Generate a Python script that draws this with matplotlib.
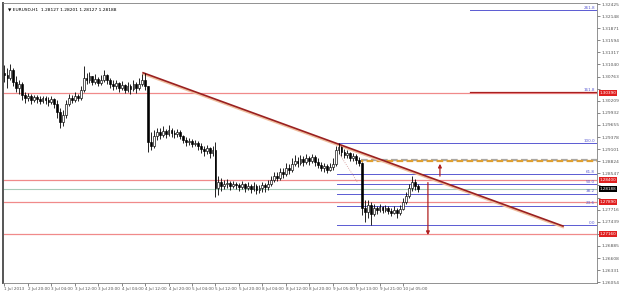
import numpy as np
import matplotlib.pyplot as plt
from matplotlib.transforms import blended_transform_factory

# EURUSD H1 bars (prices)
first_open = 1.3085
highs = [
    1.3103, 1.3096, 1.3105, 1.3096, 1.3078, 1.3069, 1.3064, 1.3041, 1.3039, 1.3036,
    1.3034, 1.3034, 1.3032, 1.3032, 1.3032, 1.3030, 1.3032, 1.3027, 1.3023, 1.3005,
    1.3000, 1.3023, 1.3036, 1.3034, 1.3041, 1.3036, 1.3055, 1.3101, 1.3085, 1.3087,
    1.3078, 1.3082, 1.3075, 1.3080, 1.3091, 1.3082, 1.3073, 1.3069, 1.3069, 1.3064,
    1.3066, 1.3059, 1.3064, 1.3059, 1.3069, 1.3064, 1.3073, 1.3082, 1.3085, 1.3055,
    1.2949, 1.2954, 1.2958, 1.2958, 1.2962, 1.2956, 1.2965, 1.2958, 1.2954, 1.2956,
    1.2954, 1.2942, 1.2938, 1.2936, 1.2933, 1.2931, 1.2929, 1.2924, 1.2917, 1.2919,
    1.2915, 1.2917, 1.2926, 1.2849, 1.2844, 1.2840, 1.2842, 1.2837, 1.2837, 1.2835,
    1.2833, 1.2837, 1.2833, 1.2835, 1.2830, 1.2835, 1.2830, 1.2828, 1.2835, 1.2833,
    1.2840, 1.2849, 1.2858, 1.2858, 1.2867, 1.2867, 1.2878, 1.2876, 1.2890, 1.2897,
    1.2892, 1.2897, 1.2894, 1.2899, 1.2894, 1.2899, 1.2897, 1.2890, 1.2881, 1.2878,
    1.2876, 1.2878, 1.2890, 1.2917, 1.2924, 1.2917, 1.2910, 1.2908, 1.2904, 1.2901,
    1.2899, 1.2892, 1.2881, 1.2794, 1.2794, 1.2789, 1.2785, 1.2780, 1.2785, 1.2780,
    1.2782, 1.2780, 1.2775, 1.2780, 1.2775, 1.2782, 1.2798, 1.2812, 1.2830, 1.2849,
    1.2842, 1.2830]
lows = [
    1.3064, 1.3050, 1.3069, 1.3055, 1.3041, 1.3036, 1.3023, 1.3016, 1.3021, 1.3014,
    1.3018, 1.3016, 1.3014, 1.3016, 1.3014, 1.3009, 1.3014, 1.3005, 1.2982, 1.2958,
    1.2962, 1.2982, 1.3009, 1.3016, 1.3018, 1.3021, 1.3023, 1.3041, 1.3059, 1.3062,
    1.3057, 1.3059, 1.3055, 1.3057, 1.3064, 1.3059, 1.3050, 1.3046, 1.3048, 1.3041,
    1.3046, 1.3039, 1.3041, 1.3036, 1.3043, 1.3039, 1.3046, 1.3055, 1.3046, 1.2904,
    1.2908, 1.2913, 1.2931, 1.2933, 1.2938, 1.2936, 1.2940, 1.2938, 1.2936, 1.2938,
    1.2933, 1.2924, 1.2917, 1.2919, 1.2915, 1.2917, 1.2908, 1.2901, 1.2894, 1.2899,
    1.2890, 1.2894, 1.2801, 1.2805, 1.2814, 1.2819, 1.2821, 1.2817, 1.2821, 1.2819,
    1.2814, 1.2819, 1.2812, 1.2817, 1.2810, 1.2814, 1.2807, 1.2810, 1.2812, 1.2812,
    1.2817, 1.2826, 1.2835, 1.2837, 1.2840, 1.2844, 1.2849, 1.2853, 1.2858, 1.2872,
    1.2869, 1.2874, 1.2872, 1.2876, 1.2874, 1.2878, 1.2872, 1.2867, 1.2860, 1.2858,
    1.2856, 1.2860, 1.2862, 1.2872, 1.2899, 1.2894, 1.2890, 1.2890, 1.2883, 1.2883,
    1.2876, 1.2872, 1.2759, 1.2743, 1.2752, 1.2736, 1.2757, 1.2762, 1.2766, 1.2764,
    1.2766, 1.2762, 1.2757, 1.2762, 1.2752, 1.2759, 1.2771, 1.2785, 1.2798, 1.2814,
    1.2817, 1.2812]
closes = [
    1.3080, 1.3073, 1.3091, 1.3064, 1.3050, 1.3059, 1.3034, 1.3027, 1.3032, 1.3023,
    1.3030, 1.3025, 1.3021, 1.3027, 1.3023, 1.3018, 1.3025, 1.3014, 1.2995, 1.2972,
    1.2988, 1.3014, 1.3027, 1.3023, 1.3032, 1.3027, 1.3046, 1.3073, 1.3069, 1.3078,
    1.3064, 1.3071, 1.3062, 1.3069, 1.3080, 1.3069, 1.3059, 1.3055, 1.3062, 1.3050,
    1.3057, 1.3046, 1.3055, 1.3048, 1.3059, 1.3050, 1.3059, 1.3069, 1.3055, 1.2926,
    1.2917, 1.2940, 1.2949, 1.2942, 1.2952, 1.2945, 1.2954, 1.2947, 1.2945, 1.2949,
    1.2940, 1.2931, 1.2926, 1.2929, 1.2922, 1.2924, 1.2917, 1.2910, 1.2906, 1.2913,
    1.2901, 1.2908, 1.2821, 1.2835, 1.2826, 1.2830, 1.2833, 1.2826, 1.2830, 1.2828,
    1.2824, 1.2830, 1.2821, 1.2826, 1.2819, 1.2826, 1.2817, 1.2821, 1.2828, 1.2824,
    1.2830, 1.2840, 1.2849, 1.2844, 1.2858, 1.2853, 1.2867, 1.2862, 1.2876, 1.2883,
    1.2878, 1.2888, 1.2881, 1.2890, 1.2883, 1.2892, 1.2881, 1.2874, 1.2867, 1.2872,
    1.2862, 1.2869, 1.2876, 1.2908, 1.2915, 1.2904, 1.2897, 1.2901, 1.2890, 1.2894,
    1.2885, 1.2878, 1.2775, 1.2766, 1.2782, 1.2762, 1.2775, 1.2771, 1.2778, 1.2771,
    1.2775, 1.2768, 1.2764, 1.2771, 1.2764, 1.2773, 1.2789, 1.2803, 1.2821, 1.2835,
    1.2826, 1.2819]
opens = [first_open] + closes[:-1]

time_labels = ["1 Jul 2013", "2 Jul 20:00", "3 Jul 04:00", "3 Jul 12:00", "3 Jul 20:00",
               "4 Jul 04:00", "4 Jul 12:00", "4 Jul 20:00", "5 Jul 04:00", "5 Jul 12:00",
               "5 Jul 20:00", "8 Jul 04:00", "8 Jul 12:00", "8 Jul 20:00", "9 Jul 05:00",
               "9 Jul 13:00", "9 Jul 21:00", "10 Jul 05:00"]
bars_per_label = 8

title = "EURUSD,H1  1.28127 1.28201 1.28127 1.28188"
top_tick = 1.32425
tick_step = 0.00277
n_ticks = 24

red_levels = [1.3039, 1.2840, 1.2789, 1.2716]
bid = closes[-1]
bid_text = "1.28188"
fib_high, fib_low = 1.2924, 1.2736
fib_ratios = [2.618, 1.618, 1.0, 0.618, 0.5, 0.382, 0.236, 0.0]
fib_names = ["261.8", "161.8", "100.0", "61.8", "50.0", "38.2", "23.6", "0.0"]
fib_start = [159, 159, 113.5, 113.5, 113.5, 113.5, 113.5, 113.5]
trend = ([47.3, 190.6], [1.3085, 1.2734])
target = 1.2883
up_arrow = (148.6, 1.2842, 1.2883)
down_arrow = (144.5, 1.2840, 1.2707)
dotted = ([114.5, 120.6], [1.2897, 1.2833])

fig = plt.figure(figsize=(6.25, 2.91), dpi=100)
ax = fig.add_axes([3/625, 8/291, 594/625, 280/291])
ax.set_xlim(-0.51, 202.2)
ax.set_ylim(1.26036, 1.32448)

n = len(closes)
x = np.arange(n)

# horizontal lines
for p in red_levels:
    ax.axhline(p, color="#f08a8a", lw=0.9, zorder=1)
ax.axhline(bid, color="#a8cbb8", lw=0.8, zorder=1)
rng = fib_high - fib_low
for r, name, xs in zip(fib_ratios, fib_names, fib_start):
    p = fib_low + r * rng
    col = "#a82020" if name == "161.8" else "#5a5ad2"
    ax.plot([xs, 202.2], [p, p], color=col, lw=0.9 if name == "161.8" else 0.7, zorder=2)
    ax.text(201.5, p + 0.0001, name, color="#5a5ad2", fontsize=3.0,
            ha="right", va="bottom", zorder=5)

# target band
ax.plot([121.5, 202.2], [target + 0.0002, target + 0.0002], color="#a8a8a8",
        lw=1.6, ls=(0, (3, 1.5)), zorder=2)
ax.plot([121.5, 202.2], [target - 0.0001, target - 0.0001], color="#e0a030",
        lw=1.6, ls=(2, (3, 1.5)), zorder=2)

# trend line
ax.plot(trend[0], [p - 0.0003 for p in trend[1]], color="#f0c0a0", lw=1.4, zorder=3)
ax.plot(trend[0], trend[1], color="#9a2020", lw=1.2, zorder=3)
ax.plot(dotted[0], dotted[1], color="#d09090", lw=0.6, ls=":", zorder=3)

# arrows
for xa, y0, y1 in [up_arrow, down_arrow]:
    ax.annotate("", xy=(xa, y1), xytext=(xa, y0),
                arrowprops=dict(arrowstyle="-|>", color="#b02020", lw=0.9,
                                mutation_scale=5), zorder=4)

# candles
ax.vlines(x, lows, highs, color="black", lw=0.6, zorder=4)
for i in range(n):
    o, c = opens[i], closes[i]
    bull = c >= o
    ax.bar(i, max(abs(c - o), 0.00005), bottom=min(o, c), width=0.62,
           color="white" if bull else "black", edgecolor="black",
           linewidth=0.45, zorder=5)

# axes styling; tick labels hidden under the price boxes, as the terminal does
ax.yaxis.tick_right()
yt = [top_tick - k * tick_step for k in range(n_ticks)]
boxes = red_levels + [bid]
ax.set_yticks(yt)
ax.set_yticklabels([f"{v:.5f}" if min(abs(v - b) for b in boxes) > 0.0011 else ""
                    for v in yt], fontsize=3.2, color="#333333")
ax.set_xticks(np.arange(len(time_labels)) * bars_per_label)
ax.set_xticklabels(time_labels, fontsize=3.0, color="#333333", ha="left")
ax.tick_params(axis="both", length=2, width=0.5, pad=1, colors="#555555")
for s in ax.spines.values():
    s.set_color("#808080")
    s.set_linewidth(0.6)
ax.spines["left"].set_linewidth(1.4)
ax.spines["left"].set_color("#555555")

ax.text(0.008, 0.985, "\u25bc " + title, transform=ax.transAxes, fontsize=3.2,
        va="top", ha="left", color="black")

# price labels on axis
tr = blended_transform_factory(ax.transAxes, ax.transData)
for p in red_levels:
    ax.text(1.004, p, f"{p:.5f}", transform=tr, fontsize=3.0, color="white",
            va="center", ha="left", clip_on=False,
            bbox=dict(boxstyle="square,pad=0.2", fc="#e02020", ec="none"))
ax.text(1.004, bid, bid_text, transform=tr, fontsize=3.0, color="white",
        va="center", ha="left", clip_on=False,
        bbox=dict(boxstyle="square,pad=0.2", fc="black", ec="none"))

fig.savefig("out.png", dpi=100)
